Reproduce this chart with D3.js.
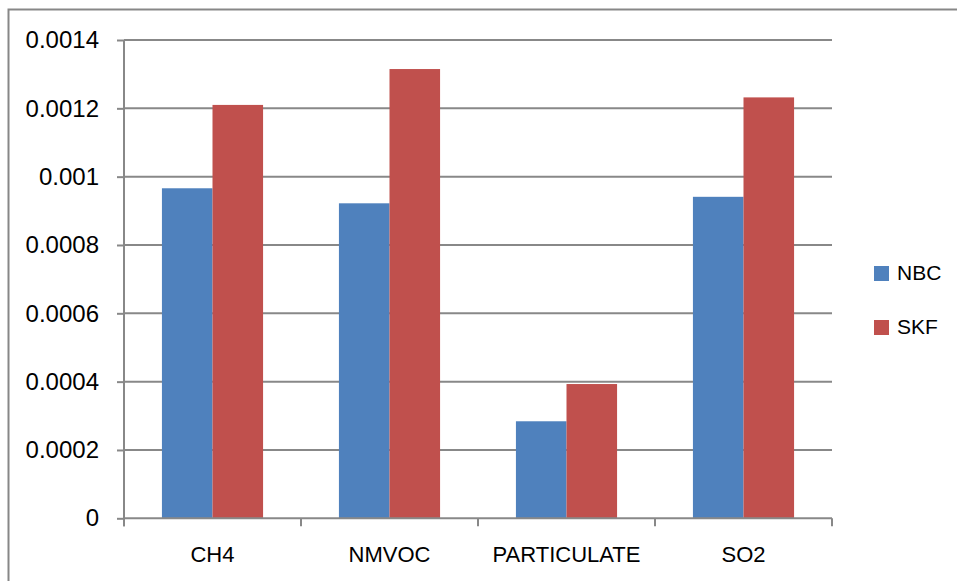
<!DOCTYPE html>
<html><head><meta charset="utf-8">
<script src="https://cdn.jsdelivr.net/npm/d3@7"></script>
<style>html,body{margin:0;padding:0;background:#fff;overflow:hidden}</style>
</head><body>
<script>
const categories = ["CH4", "NMVOC", "PARTICULATE", "SO2"];
const seriesNames = ["NBC", "SKF"];
const nbcValues = [0.000966, 0.000922, 0.000284, 0.000941];
const skfValues = [0.00121, 0.001315, 0.000393, 0.001232];
const yTicks = [0, 0.0002, 0.0004, 0.0006, 0.0008, 0.001, 0.0012, 0.0014];
const yTickLabels = ["0", "0.0002", "0.0004", "0.0006", "0.0008", "0.001", "0.0012", "0.0014"];
const colors = ["#4F81BD", "#C0504D"];

(function () {
const W = 957, H = 581;
const font = "'Liberation Sans', Arial, sans-serif";
const svg = d3.select("body").append("svg").attr("width", W).attr("height", H);

// outer chart border (only top/left visible)
svg.append("rect").attr("x", 8.5).attr("y", 9.5).attr("width", 1000).attr("height", 1000)
  .attr("fill", "none").attr("stroke", "#878787").attr("stroke-width", 2);

const pLeft = 124, pRight = 832, pTop = 40, pBottom = 518.3;
const x = d3.scaleBand().domain(categories).range([pLeft, pRight]);
const x1 = d3.scaleBand().domain(seriesNames).range([0, x.bandwidth()]).paddingOuter(0.75);
const y = d3.scaleLinear().domain([0, 0.0014]).range([pBottom, pTop]);

// gridlines
svg.append("g").selectAll("line").data(yTicks.slice(1)).join("line")
  .attr("x1", pLeft).attr("x2", pRight)
  .attr("y1", d => y(d)).attr("y2", d => y(d))
  .attr("stroke", "#888").attr("stroke-width", 2);

// bars
const data = categories.map((c, i) => ({c, vals: [nbcValues[i], skfValues[i]]}));
const g = svg.append("g");
data.forEach(d => {
  d.vals.forEach((v, j) => {
    g.append("rect")
      .attr("x", x(d.c) + x1(seriesNames[j]))
      .attr("width", x1.bandwidth())
      .attr("y", y(v))
      .attr("height", y(0) - y(v))
      .attr("fill", colors[j]);
  });
});

// y axis
const yAxis = d3.axisLeft(y).tickValues(yTicks).tickFormat((d, i) => yTickLabels[i]).tickSize(7).tickPadding(18);
const ya = svg.append("g").attr("transform", `translate(${pLeft},0)`).call(yAxis);
ya.select(".domain").remove();
ya.selectAll(".tick line").attr("stroke", "#888").attr("stroke-width", 2);
ya.selectAll("text").attr("font-family", font).attr("font-size", 24).attr("fill", "#000");
svg.append("line").attr("x1", pLeft).attr("x2", pLeft).attr("y1", pTop).attr("y2", pBottom + 8)
  .attr("stroke", "#888").attr("stroke-width", 2);

// x axis
svg.append("line").attr("x1", pLeft).attr("x2", pRight).attr("y1", pBottom).attr("y2", pBottom)
  .attr("stroke", "#888").attr("stroke-width", 2);
const bounds = categories.map(c => x(c)).concat([pRight]);
svg.append("g").selectAll("line").data(bounds).join("line")
  .attr("x1", d => d).attr("x2", d => d).attr("y1", pBottom).attr("y2", pBottom + 8)
  .attr("stroke", "#888").attr("stroke-width", 2);
svg.append("g").selectAll("text").data(categories).join("text")
  .attr("x", d => x(d) + x.bandwidth() / 2).attr("y", 562)
  .attr("text-anchor", "middle").attr("font-family", font).attr("font-size", 22).attr("fill", "#000")
  .text(d => d);

// legend
const leg = svg.append("g");
seriesNames.forEach((s, i) => {
  const ly = 266 + i * 54;
  leg.append("rect").attr("x", 874).attr("y", ly).attr("width", 15).attr("height", 15).attr("fill", colors[i]);
  leg.append("text").attr("x", 897).attr("y", ly + 14).attr("font-family", font).attr("font-size", 21)
    .attr("fill", "#000").text(s);
});
})();
</script>
</body></html>
